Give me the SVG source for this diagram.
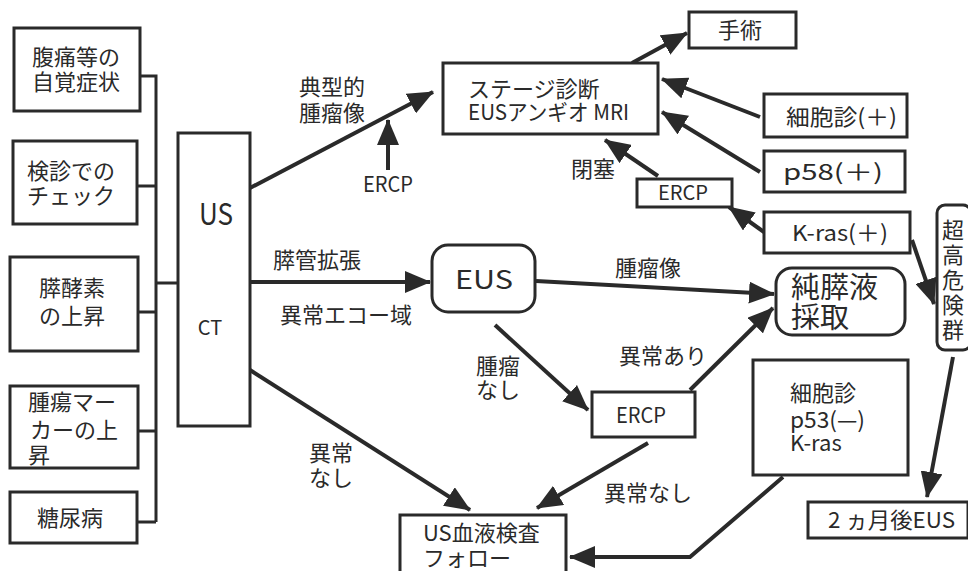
<svg xmlns="http://www.w3.org/2000/svg" width="968" height="571" viewBox="0 0 968 571">
<defs>
<style>
.b{fill:#fff;stroke:#2a2a2a;stroke-width:3}
.t{font-family:"Noto Sans CJK JP","Noto Sans",sans-serif;fill:#2a2a2a;font-size:22px}
.m{text-anchor:middle}
.s20{font-size:21px}
.c{fill:none;stroke:#2a2a2a;stroke-width:3}
.a{fill:none;stroke:#2a2a2a;stroke-width:4;marker-end:url(#ah)}
</style>
<marker id="ah" markerWidth="26" markerHeight="22" refX="25" refY="11" orient="auto" markerUnits="userSpaceOnUse">
<path d="M0,0 L26,11 L0,22 Z" fill="#2a2a2a"/>
</marker>
</defs>
<rect width="968" height="571" fill="#fff"/>

<g id="connectors">
<path class="c" d="M140,76 H156 V522 M137,186 H156 M138,312 H156 M138,431 H156 M137,522 H156 M156,283 H178"/>
<path class="a" d="M250,188 L433,92"/>
<path class="a" d="M388,170 L388,120"/>
<path class="a" d="M250,282 L430,282"/>
<path class="a" d="M250,370 L470,510"/>
<path class="a" d="M632,63 L687,33"/>
<path class="a" d="M760,117 L662,79"/>
<path class="a" d="M760,172 L662,112"/>
<path class="a" d="M658,176 L605,140"/>
<path class="a" d="M764,232 L729,207"/>
<path class="a" d="M912,240 L934,304"/>
<path class="a" d="M536,281 L774,294"/>
<path class="a" d="M495,325 L588,410"/>
<path class="a" d="M690,390 L773,308"/>
<path class="a" d="M648,443 L537,508"/>
<path class="a" d="M783,477 L690,557 L570,557"/>
<path class="a" d="M953,357 L927,497"/>
</g>

<g id="labels">
<text class="t m" x="332" y="95">典型的<tspan x="332" dy="26">腫瘤像</tspan></text>
<text class="t m s20" x="388" y="192" textLength="50" lengthAdjust="spacingAndGlyphs">ERCP</text>
<text class="t" x="273" y="268">膵管拡張</text>
<text class="t" x="280" y="323">異常エコー域</text>
<text class="t m" x="331" y="461">異常<tspan x="331" dy="25">なし</tspan></text>
<text class="t m" x="498" y="374">腫瘤<tspan x="498" dy="24">なし</tspan></text>
<text class="t m" x="648" y="276">腫瘤像</text>
<text class="t m" x="663" y="364">異常あり</text>
<text class="t m" x="648" y="501">異常なし</text>
<text class="t m" x="593" y="177">閉塞</text>
</g>

<g id="n1"><rect class="b" x="14" y="28" width="126" height="83"/>
<text class="t m" x="76" y="65">腹痛等の<tspan x="76" dy="25">自覚症状</tspan></text></g>
<g id="n2"><rect class="b" x="13" y="141" width="124" height="83"/>
<text class="t" x="27" y="179">検診での<tspan x="27" dy="25">チェック</tspan></text></g>
<g id="n3"><rect class="b" x="10" y="257" width="128" height="94"/>
<text class="t m" x="72" y="296">膵酵素<tspan x="72" dy="28">の上昇</tspan></text></g>
<g id="n4"><rect class="b" x="10" y="386" width="128" height="82"/>
<text class="t" x="28" y="410">腫瘍マー<tspan x="30" dy="28">カーの上</tspan><tspan x="28" dy="25">昇</tspan></text></g>
<g id="n5"><rect class="b" x="10" y="492" width="127" height="51"/>
<text class="t m" x="70" y="526">糖尿病</text></g>

<g id="us"><rect class="b" x="178" y="133" width="72" height="293"/>
<text class="t m" x="216" y="225" style="font-size:30px" textLength="34" lengthAdjust="spacingAndGlyphs">US</text>
<text class="t m" x="210" y="335" style="font-size:20px">CT</text></g>

<g id="stage"><rect class="b" x="443" y="63" width="215" height="71"/>
<text class="t" x="468" y="97">ステージ診断<tspan x="468" dy="23" textLength="161" lengthAdjust="spacingAndGlyphs">EUSアンギオ MRI</tspan></text></g>

<g id="surgery"><rect class="b" x="689" y="12" width="107" height="36"/>
<text class="t m" x="740" y="38">手術</text></g>

<g id="cyto"><rect class="b" x="764" y="94" width="143" height="43"/>
<text class="t" x="786" y="125" textLength="111" lengthAdjust="spacingAndGlyphs">細胞診(＋)</text></g>

<g id="p58"><rect class="b" x="764" y="151" width="141" height="41"/>
<text class="t" x="783" y="180" textLength="100" lengthAdjust="spacingAndGlyphs">p58(＋)</text></g>

<g id="ercp1"><rect class="b" x="637" y="179" width="95" height="28"/>
<text class="t m" x="683" y="200" style="font-size:20px" textLength="50" lengthAdjust="spacingAndGlyphs">ERCP</text></g>

<g id="kras"><rect class="b" x="764" y="212" width="146" height="41"/>
<text class="t" x="792" y="241" textLength="96" lengthAdjust="spacingAndGlyphs">K-ras(＋)</text></g>

<g id="highrisk"><rect class="b" x="937" y="205" width="34" height="145" rx="8"/>
<text class="t m" x="953" y="238">超<tspan x="953" dy="25">高</tspan><tspan x="953" dy="25">危</tspan><tspan x="953" dy="25">険</tspan><tspan x="953" dy="25">群</tspan></text></g>

<g id="eus"><rect class="b" x="432" y="245" width="103" height="67" rx="16"/>
<text class="t m" x="484" y="289" style="font-size:26px" textLength="58" lengthAdjust="spacingAndGlyphs">EUS</text></g>

<g id="juice"><rect class="b" x="776" y="268" width="129" height="67" rx="16"/>
<text class="t" x="791" y="298" style="font-size:29px">純膵液<tspan x="791" dy="30">採取</tspan></text></g>

<g id="ercp2"><rect class="b" x="592" y="392" width="103" height="45"/>
<text class="t m s20" x="641" y="423" textLength="50" lengthAdjust="spacingAndGlyphs">ERCP</text></g>

<g id="cyto2"><rect class="b" x="753" y="360" width="155" height="115"/>
<text class="t" x="790" y="401">細胞診<tspan x="790" dy="27" textLength="75" lengthAdjust="spacingAndGlyphs">p53(—)</tspan><tspan x="790" dy="23">K-ras</tspan></text></g>

<g id="follow"><rect class="b" x="400" y="515" width="166" height="70"/>
<text class="t" x="423" y="541">US血液検査<tspan x="423" dy="25">フォロー</tspan></text></g>

<g id="twomonth"><rect class="b" x="808" y="502" width="160" height="36"/>
<text class="t" x="828" y="528" textLength="127" lengthAdjust="spacingAndGlyphs">2 ヵ月後EUS</text></g>
</svg>
